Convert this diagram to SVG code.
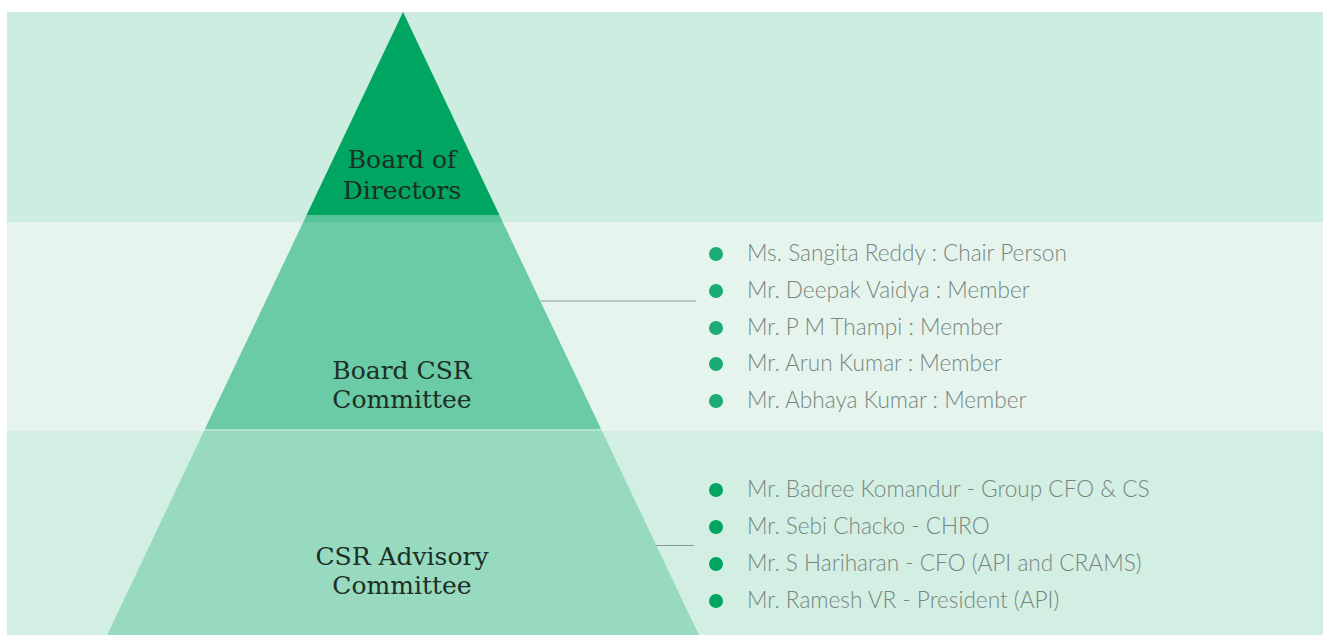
<svg xmlns="http://www.w3.org/2000/svg" width="1323" height="635" viewBox="0 0 1323 635">
<style>
.lbl{font-family:"DejaVu Serif","Liberation Serif",serif;font-size:25px;fill:#1c2e25;text-anchor:middle}
.itm{font-family:Lato,"Liberation Sans",sans-serif;font-weight:300;font-size:22.6px;fill:#78857f}
.dot{fill:#1aac74}
.dot2{fill:#00a562}
.con{stroke:#8a9a93;stroke-width:1.2;fill:none}
</style>
<rect width="1323" height="635" fill="#ffffff"/>
<rect x="7" y="12" width="1316" height="210" fill="#cdede0"/>
<rect x="7" y="222" width="1316" height="209" fill="#e5f5ee"/>
<rect x="7" y="431" width="1316" height="204" fill="#d3efe3"/>

<g id="board-of-directors">
<polygon points="403,12 499.4,215 306.6,215" fill="#00a562"/>
<text class="lbl" x="402" y="168">Board of</text>
<text class="lbl" x="402" y="199">Directors</text>
</g>

<g id="board-csr-committee">
<polygon points="306.6,215 499.4,215 502.7,222 303.3,222" fill="#56c497"/>
<polygon points="303.3,222 502.7,222 601.1,429 204.9,429" fill="#6bcba6"/>
<polygon points="204.9,429 601.1,429 602,431 204,431" fill="#aee3cd"/>
<text class="lbl" x="402" y="379">Board CSR</text>
<text class="lbl" x="402" y="408">Committee</text>
<circle class="dot" cx="716" cy="254" r="7"/>
<circle class="dot" cx="716" cy="291" r="7"/>
<circle class="dot" cx="716" cy="328" r="7"/>
<circle class="dot" cx="716" cy="364" r="7"/>
<circle class="dot" cx="716" cy="401" r="7"/>
<text class="itm" x="747" y="261">Ms. Sangita Reddy : Chair Person</text>
<text class="itm" x="747" y="298">Mr. Deepak Vaidya : Member</text>
<text class="itm" x="747" y="335">Mr. P M Thampi : Member</text>
<text class="itm" x="747" y="371">Mr. Arun Kumar : Member</text>
<text class="itm" x="747" y="408">Mr. Abhaya Kumar : Member</text>
</g>

<g id="csr-advisory-committee">
<polygon points="204,431 602,431 698.9,635 107.1,635" fill="#97dac0"/>
<text class="lbl" x="402" y="565">CSR Advisory</text>
<text class="lbl" x="402" y="594">Committee</text>
<circle class="dot2" cx="716" cy="490" r="7"/>
<circle class="dot2" cx="716" cy="527" r="7"/>
<circle class="dot2" cx="716" cy="564" r="7"/>
<circle class="dot2" cx="716" cy="601" r="7"/>
<text class="itm" x="747" y="497">Mr. Badree Komandur - Group CFO &amp; CS</text>
<text class="itm" x="747" y="534">Mr. Sebi Chacko - CHRO</text>
<text class="itm" x="747" y="571">Mr. S Hariharan - CFO (API and CRAMS)</text>
<text class="itm" x="747" y="608">Mr. Ramesh VR - President (API)</text>
</g>

<g id="connectors">
<line class="con" x1="541" y1="301" x2="696" y2="301"/>
<line class="con" x1="656" y1="545.5" x2="694" y2="545.5"/>
</g>
</svg>
